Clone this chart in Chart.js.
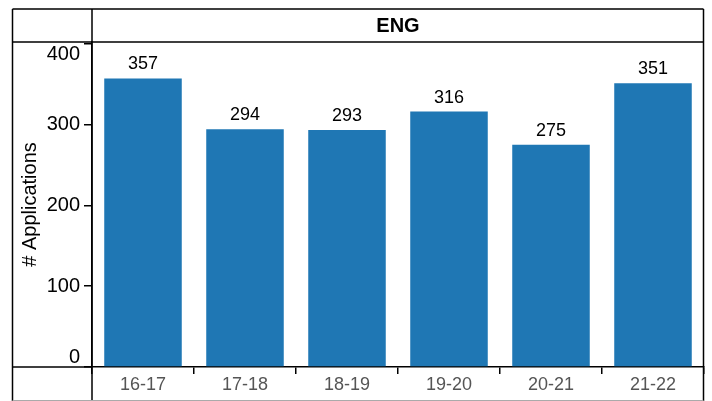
<!DOCTYPE html>
<html>
<head>
<meta charset="utf-8">
<script src="https://cdn.jsdelivr.net/npm/chart.js@4/dist/chart.umd.min.js"></script>
<style>
  body { margin: 0; background: #fff; }
  #chartBox { width: 712px; height: 401px; position: relative; }
</style>
</head>
<body>
<div id="chartBox"><canvas id="chart"></canvas></div>
<script>
const seasons = ["16-17", "17-18", "18-19", "19-20", "20-21", "21-22"];
const applications = [357, 294, 293, 316, 275, 351];
const yTicks = [0, 100, 200, 300, 400];
const panelTitle = "ENG";
const yTitle = "# Applications";

const fontFamily = "'Liberation Sans', Arial, sans-serif";

// frame lines, panel title, y labels and bar values
const framePlugin = {
  id: "frame",
  afterDraw(chart) {
    const { ctx, chartArea: { left, right, top, bottom } } = chart;
    const yScale = chart.scales.y;
    ctx.save();
    ctx.strokeStyle = "#000";
    ctx.lineWidth = 1.5;
    ctx.beginPath();
    ctx.moveTo(12.5, 9); ctx.lineTo(right - 0.5, 9);
    ctx.moveTo(12.5, top); ctx.lineTo(right - 0.5, top);
    ctx.moveTo(12.5, bottom); ctx.lineTo(left, bottom);
    ctx.moveTo(12.5, 9); ctx.lineTo(12.5, 401);
    ctx.moveTo(left, 9); ctx.lineTo(left, 401);
    ctx.moveTo(right - 0.5, 9); ctx.lineTo(right - 0.5, 401);
    ctx.stroke();
    ctx.strokeStyle = "#aaa";
    ctx.lineWidth = 1;
    ctx.beginPath();
    ctx.moveTo(12.5, 400.5); ctx.lineTo(right - 0.5, 400.5);
    ctx.stroke();

    ctx.fillStyle = "#000";
    ctx.font = "bold 20px " + fontFamily;
    ctx.textAlign = "center";
    ctx.textBaseline = "middle";
    ctx.fillText(panelTitle, (left + right) / 2, 26);

    ctx.font = "20px " + fontFamily;
    ctx.textAlign = "right";
    yTicks.forEach((v, i) => {
      const y = yScale.getPixelForValue(v);
      if (i === yTicks.length - 1) {
        ctx.textBaseline = "top";
        ctx.fillText(String(v), 80, y + 1);
      } else if (i === 0) {
        ctx.textBaseline = "alphabetic";
        ctx.fillText(String(v), 80, y - 4);
      } else {
        ctx.textBaseline = "middle";
        ctx.fillText(String(v), 80, y);
      }
    });

    ctx.save();
    ctx.translate(30, (top + bottom) / 2);
    ctx.rotate(-Math.PI / 2);
    ctx.textAlign = "center";
    ctx.textBaseline = "middle";
    ctx.fillText(yTitle, 0, 0);
    ctx.restore();

    ctx.font = "18px " + fontFamily;
    ctx.textAlign = "center";
    ctx.textBaseline = "alphabetic";
    chart.getDatasetMeta(0).data.forEach((bar, i) => {
      ctx.fillText(String(applications[i]), bar.x, bar.y - 9);
    });
    ctx.restore();
  }
};

new Chart(document.getElementById("chart"), {
  type: "bar",
  data: {
    labels: seasons,
    datasets: [{
      data: applications,
      backgroundColor: "#1f77b4",
      barPercentage: 0.76,
      categoryPercentage: 1
    }]
  },
  options: {
    responsive: true,
    maintainAspectRatio: false,
    animation: false,
    layout: { padding: { left: 12, right: 8, top: 42, bottom: 0 } },
    plugins: {
      legend: { display: false },
      tooltip: { enabled: false }
    },
    scales: {
      x: {
        afterFit: (s) => { s.height = 34; },
        grid: { drawOnChartArea: false, tickLength: 7, color: "#000", lineWidth: 1.5 },
        border: { color: "#000", width: 1.5 },
        ticks: { color: "#555", font: { size: 18, family: fontFamily }, padding: 0 }
      },
      y: {
        min: 0,
        max: 402,
        afterFit: (s) => { s.width = 80; },
        afterBuildTicks: (s) => { s.ticks = yTicks.map((v) => ({ value: v })); },
        grid: { drawOnChartArea: false, tickLength: 8, color: "#000", lineWidth: 1.5 },
        border: { color: "#000", width: 1.5 },
        ticks: { display: false }
      }
    }
  },
  plugins: [framePlugin]
});
</script>
</body>
</html>
